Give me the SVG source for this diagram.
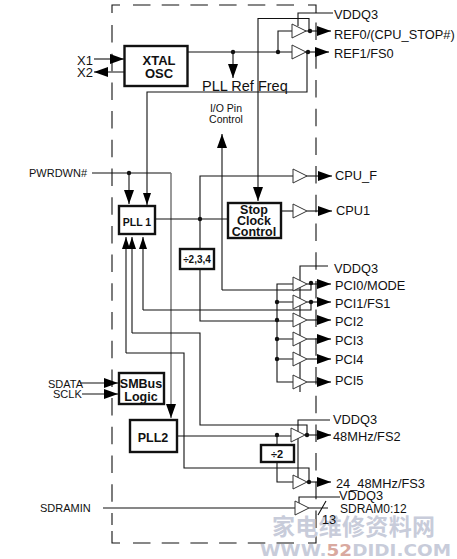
<svg xmlns="http://www.w3.org/2000/svg" width="457" height="559" viewBox="0 0 457 559">
<defs>
<marker id="a" markerUnits="userSpaceOnUse" markerWidth="14" markerHeight="10" refX="14" refY="5" orient="auto"><path d="M0 0L14 5L0 10z" fill="#000"/></marker>
<marker id="b" markerUnits="userSpaceOnUse" markerWidth="12" markerHeight="10" refX="12" refY="5" orient="auto"><path d="M0 1L12 5L0 9z" fill="#000"/></marker>
<path id="t" d="M0-7L14 0L0 7z" fill="#fff" stroke="#333" stroke-width="1"/>
</defs>
<style>
text{font-family:"Liberation Sans",Arial,sans-serif;fill:#111}
.w{fill:none;stroke:#111;stroke-width:1.1}
.d{fill:none;stroke:#111;stroke-width:1.1}
.dd{stroke-dasharray:17.500 11.200}
.box{fill:#fff;stroke:#111;stroke-width:2.400}
.b{font-weight:700;text-anchor:middle}
.l{font-size:12.800px}
.s{font-size:11px}
</style>
<rect width="457" height="559" fill="#fff"/>
<g id="boundary" class="d">
<path d="M120 5H112V13M308 5H316V13M112 531V543H120M308 543H316V536"/>
<path class="dd" d="M133 5H300M133 543H300M112 25V525M316 22.600V530"/>
</g>
<g id="connectors" class="w">
<path d="M94 59H124" marker-end="url(#a)"/>
<path d="M127 72H94" marker-end="url(#a)"/>
<path d="M187 52H292"/>
<path d="M233 52V78" marker-end="url(#a)"/>
<path d="M278 52V31H292"/>
<path d="M298 26V13H333"/>
<path d="M258 186V18.500H309V31"/>
<path d="M258 186V201" marker-end="url(#a)"/>
<path d="M305 31H331" marker-end="url(#a)"/>
<path d="M305 52H329" marker-end="url(#a)"/>
<path d="M307 52V92H147V205" marker-end="url(#b)"/>
<path d="M92 173H171"/>
<path d="M129 173V204" marker-end="url(#a)"/>
<path d="M171 173V418" stroke="#777" stroke-width="1.500" marker-end="url(#a)"/>
<path d="M155 219H228"/>
<path d="M200 249V176H293"/>
<path d="M306 176H332" marker-end="url(#a)"/>
<path d="M281 211H293"/>
<path d="M307 211H332" marker-end="url(#a)"/>
<path d="M222 290H311V283"/>
<path d="M222 290V134" marker-end="url(#a)"/>
<path d="M200 269V321H293"/>
<path d="M293 284H277V382H293M277 302H293M277 339H293M277 359H293"/>
<path d="M300 270V266H328M300 270V392"/>
<path d="M143 310H311V302"/>
<path d="M143 310V237" marker-end="url(#b)"/>
<path d="M132 333H200V425H307V435"/>
<path d="M132 333V237" marker-end="url(#b)"/>
<path d="M126 353H184V468H309V482"/>
<path d="M126 353V237" marker-end="url(#b)"/>
<path d="M307 284H331" marker-end="url(#a)"/>
<path d="M307 302H331" marker-end="url(#a)"/>
<path d="M307 320H331" marker-end="url(#a)"/>
<path d="M307 339H331" marker-end="url(#a)"/>
<path d="M307 359H331" marker-end="url(#a)"/>
<path d="M307 382H331" marker-end="url(#a)"/>
<path d="M80 383H118" marker-end="url(#a)"/>
<path d="M82 394H118" marker-end="url(#a)"/>
<path d="M177 436H291"/>
<path d="M277 436V445M277 462V482H293"/>
<path d="M298 425V420H330M298 425V478"/>
<path d="M305 435H331" marker-end="url(#a)"/>
<path d="M307 482H331" marker-end="url(#a)"/>
<path d="M299 503V497H340"/>
<path d="M103 508H295"/>
<path d="M309 508H328M318 515L326 501"/>
</g>
<g id="buffers">
<use href="#t" x="292" y="31"/><use href="#t" x="292" y="52"/>
<use href="#t" x="293" y="176"/><use href="#t" x="293" y="211"/>
<use href="#t" x="293" y="284"/><use href="#t" x="293" y="302"/><use href="#t" x="293" y="320"/><use href="#t" x="293" y="339"/><use href="#t" x="293" y="359"/><use href="#t" x="293" y="382"/>
<use href="#t" x="291" y="435"/><use href="#t" x="293" y="482"/><use href="#t" x="295" y="508"/>
</g>
<g id="dots" fill="#111">
<circle cx="233" cy="52" r="2.200"/><circle cx="278" cy="52" r="2.200"/><circle cx="310" cy="31" r="2.200"/><circle cx="308" cy="52" r="2.200"/>
<circle cx="129" cy="173" r="2.200"/><circle cx="200" cy="219" r="2.200"/>
<circle cx="311" cy="283" r="2.200"/><circle cx="311" cy="302" r="2.200"/>
<circle cx="277" cy="302" r="2.200"/><circle cx="277" cy="320" r="2.200"/><circle cx="277" cy="339" r="2.200"/><circle cx="277" cy="359" r="2.200"/>
<circle cx="277" cy="435" r="2.200"/><circle cx="307" cy="435" r="2.200"/><circle cx="309" cy="482" r="2.200"/>
</g>
<g id="xtal"><rect class="box" x="124.500" y="46" width="63" height="40"/><text class="b" x="159" y="65" font-size="13">XTAL</text><text class="b" x="159" y="78" font-size="13">OSC</text></g>
<g id="pll1"><rect class="box" x="119" y="206" width="36" height="28"/><text class="b" x="137" y="226" font-size="10.500">PLL 1</text></g>
<g id="stop"><rect class="box" x="228" y="203" width="53" height="35"/><text class="b" x="254" y="214" font-size="12.500">Stop</text><text class="b" x="254" y="225" font-size="12.500">Clock</text><text class="b" x="254" y="236" font-size="12.500">Control</text></g>
<g id="div234"><rect class="box" x="180" y="249" width="34" height="20"/><text class="b" x="197" y="263" font-size="10">÷2,3,4</text></g>
<g id="smbus"><rect class="box" x="119" y="373" width="45" height="31"/><text class="b" x="141" y="388" font-size="12.500">SMBus</text><text class="b" x="141" y="401" font-size="12.500">Logic</text></g>
<g id="pll2"><rect class="box" x="130" y="420" width="47" height="32"/><text class="b" x="153" y="442" font-size="12.500">PLL2</text></g>
<g id="div2"><rect class="box" x="261" y="445" width="33" height="17"/><text class="b" x="277" y="458" font-size="11">÷2</text></g>
<g id="watermark" font-weight="700">
<text x="272" y="535" font-size="23" style="font-family:'Noto Sans CJK SC',sans-serif;fill:#c8ccda" textLength="163">家电维修资料网</text>
<text x="260" y="556" font-size="15" style="font-family:'DejaVu Sans',sans-serif;fill:#c8ccda" textLength="191" lengthAdjust="spacingAndGlyphs">WWW.<tspan style="fill:#d9a9a0">52</tspan>DIDI.COM</text>
</g>
<g id="labels">
<text x="77" y="65" font-size="13">X1</text><text x="77" y="77" font-size="13">X2</text>
<text x="334" y="19" class="l">VDDQ3</text>
<text x="334" y="39" class="l">REF0/(CPU_STOP#)</text>
<text x="334" y="58" class="l">REF1/FS0</text>
<text x="202" y="91" font-size="14.500">PLL Ref Freq</text>
<text x="226" y="112" font-size="10.500" text-anchor="middle">I/O Pin</text>
<text x="226" y="123" font-size="10.500" text-anchor="middle">Control</text>
<text x="29" y="177" class="s">PWRDWN#</text>
<text x="335" y="180" class="l">CPU_F</text>
<text x="336" y="215" class="l">CPU1</text>
<text x="334" y="273" class="l">VDDQ3</text>
<text x="335" y="290" class="l">PCI0/MODE</text>
<text x="335" y="308" class="l">PCI1/FS1</text>
<text x="335" y="326" class="l">PCI2</text>
<text x="335" y="345" class="l">PCI3</text>
<text x="335" y="364" class="l">PCI4</text>
<text x="335" y="385" class="l">PCI5</text>
<text x="48" y="388" class="s">SDATA</text>
<text x="53" y="398" class="s">SCLK</text>
<text x="333" y="424" class="l">VDDQ3</text>
<text x="333" y="441" class="l">48MHz/FS2</text>
<text x="336" y="488" class="l">24_48MHz/FS3</text>
<text x="339" y="500" class="l">VDDQ3</text>
<text x="340" y="513" font-size="12">SDRAM0:12</text>
<text x="40" y="512" class="s">SDRAMIN</text>
<text x="322" y="524" class="l">13</text>
</g>
</svg>
